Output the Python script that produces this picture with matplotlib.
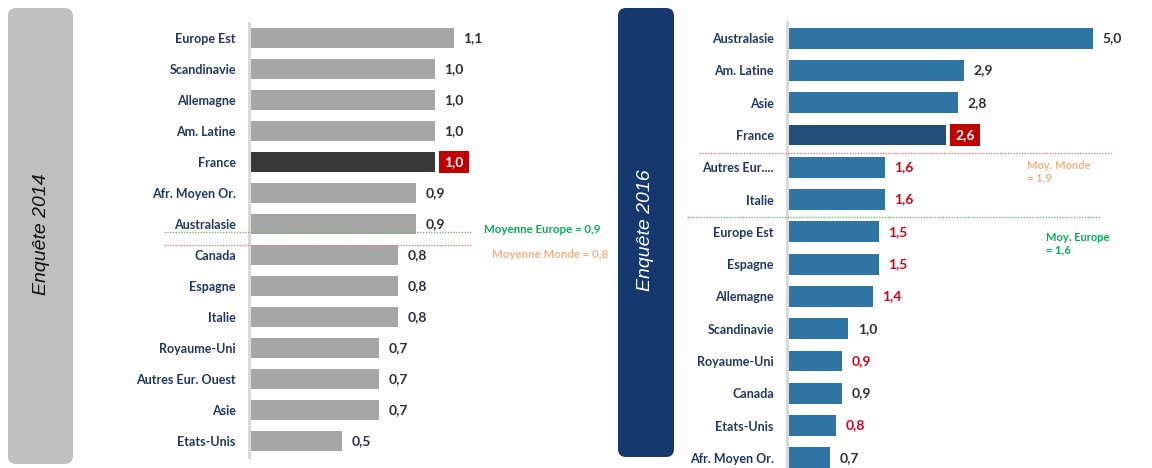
import numpy as np
import matplotlib
matplotlib.use("Agg")
import matplotlib.pyplot as plt
from matplotlib.patches import FancyBboxPatch
from matplotlib.lines import Line2D

# data 2014
cats_2014 = ["Europe Est", "Scandinavie", "Allemagne", "Am. Latine", "France",
             "Afr. Moyen Or.", "Australasie", "Canada", "Espagne", "Italie",
             "Royaume-Uni", "Autres Eur. Ouest", "Asie", "Etats-Unis"]
vals_2014 = [1.1, 1.0, 1.0, 1.0, 1.0, 0.9, 0.9, 0.8, 0.8, 0.8, 0.7, 0.7, 0.7, 0.5]
moy_europe_2014 = 0.9
moy_monde_2014 = 0.8

# data 2016
cats_2016 = ["Australasie", "Am. Latine", "Asie", "France", "Autres Eur....",
             "Italie", "Europe Est", "Espagne", "Allemagne", "Scandinavie",
             "Royaume-Uni", "Canada", "Etats-Unis", "Afr. Moyen Or."]
vals_2016 = [5.0, 2.9, 2.8, 2.6, 1.6, 1.6, 1.5, 1.5, 1.4, 1.0, 0.9, 0.9, 0.8, 0.7]
red_2016 = [False, False, False, False, True, True, True, True, True, False,
            True, False, True, False]
moy_monde_2016 = 1.9
moy_europe_2016 = 1.6

W, H = 1152, 468
FONT = ["Lato", "DejaVu Sans"]
NAVY = "#1f3864"
DARK = "#2e2e3c"
RED = "#d9001b"

fig = plt.figure(figsize=(W / 100, H / 100), dpi=100)


def fx(x):
    return x / W


def fy(y):
    return 1 - y / H


def fmt(v):
    return f"{v:.1f}".replace(".", ",")


def draw_panel(ax, cats, vals, xmax, bar_col, france_col, label_cols):
    y = np.arange(len(cats))
    cols = [france_col if c == "France" else bar_col for c in cats]
    ax.barh(y, vals, height=0.65, color=cols, zorder=2)
    ax.set_xlim(0, xmax)
    ax.set_ylim(len(cats) - 0.5, -0.5)
    ax.set_yticks(y)
    ax.set_yticklabels(cats, fontfamily=FONT, fontweight="bold", fontsize=9, color=NAVY)
    ax.tick_params(axis="y", length=0, pad=9.5)
    ax.set_xticks([])
    for s in ["top", "right", "bottom"]:
        ax.spines[s].set_visible(False)
    ax.spines["left"].set_color("#d9d9d9")
    ax.spines["left"].set_linewidth(2.2)
    ax.set_facecolor("none")
    for yi, v, c, lc in zip(y, vals, cats, label_cols):
        if c == "France":
            ax.annotate(fmt(v), (v, yi), xytext=(6.8, 0), textcoords="offset points",
                        ha="left", va="center", fontsize=10, fontweight="bold",
                        fontfamily=FONT, color="white",
                        bbox=dict(boxstyle="square,pad=0.38", fc="#c00000", ec="none"))
        else:
            ax.annotate(fmt(v), (v, yi), xytext=(6.8, 0), textcoords="offset points",
                        ha="left", va="center", fontsize=10, fontweight="bold",
                        fontfamily=FONT, color=lc)


# side boxes
box1 = FancyBboxPatch((0.08, 0.04), 0.65, 4.56, boxstyle="round,pad=0,rounding_size=0.08",
                      transform=fig.dpi_scale_trans, fc="#bfbfbf", ec="none")
box2 = FancyBboxPatch((6.18, 0.11), 0.56, 4.49, boxstyle="round,pad=0,rounding_size=0.08",
                      transform=fig.dpi_scale_trans, fc="#15386f", ec="none")
fig.patches.extend([box1, box2])
fig.text(fx(42), fy(234), "Enquête 2014", rotation=90, ha="center", va="center",
         fontsize=14, style="italic", family="Liberation Sans", color="#111111")
fig.text(fx(646), fy(230), "Enquête 2016", rotation=90, ha="center", va="center",
         fontsize=14, style="italic", family="Liberation Sans", color="white")

# left panel: 186 px per unit
xmax_2014 = 1.6
ax1 = fig.add_axes([fx(249), fy(456.5), xmax_2014 * 186 / W, 434 / H])
draw_panel(ax1, cats_2014, vals_2014, xmax_2014, "#a6a6a6", "#383838",
           [DARK] * len(cats_2014))

# right panel: 61.2 px per unit
xmax_2016 = 5.4
ax2 = fig.add_axes([fx(787), fy(474), xmax_2016 * 61.2 / W, 452 / H])
draw_panel(ax2, cats_2016, vals_2016, xmax_2016, "#2f75a3", "#1f4e79",
           [RED if r else DARK for r in red_2016])

# average separator lines
GREEN_L = "#6cc06c"
RED_L = "#e58080"
for (x0, x1, yy, c) in [(164, 472, 232, GREEN_L), (164, 472, 245, RED_L),
                        (699, 1113, 153, RED_L), (687, 1101, 217, GREEN_L)]:
    fig.add_artist(Line2D([fx(x0), fx(x1)], [fy(yy), fy(yy)], color=c, lw=1,
                          linestyle=(0, (1, 1)), transform=fig.transFigure))

fig.text(fx(484), fy(229), f"Moyenne Europe = {fmt(moy_europe_2014)}", ha="left", va="center",
         fontsize=8.3, fontweight="bold", family=FONT, color="#00b050")
fig.text(fx(492), fy(254), f"Moyenne Monde = {fmt(moy_monde_2014)}", ha="left", va="center",
         fontsize=8.3, fontweight="bold", family=FONT, color="#f4b183")
fig.text(fx(1027), fy(160), f"Moy. Monde\n= {fmt(moy_monde_2016)}", ha="left", va="top",
         fontsize=8, fontweight="bold", family=FONT, color="#f4b183", linespacing=1.1)
fig.text(fx(1046), fy(232), f"Moy. Europe\n= {fmt(moy_europe_2016)}", ha="left", va="top",
         fontsize=8, fontweight="bold", family=FONT, color="#00b050", linespacing=1.1)

fig.savefig("out.png", dpi=100)
